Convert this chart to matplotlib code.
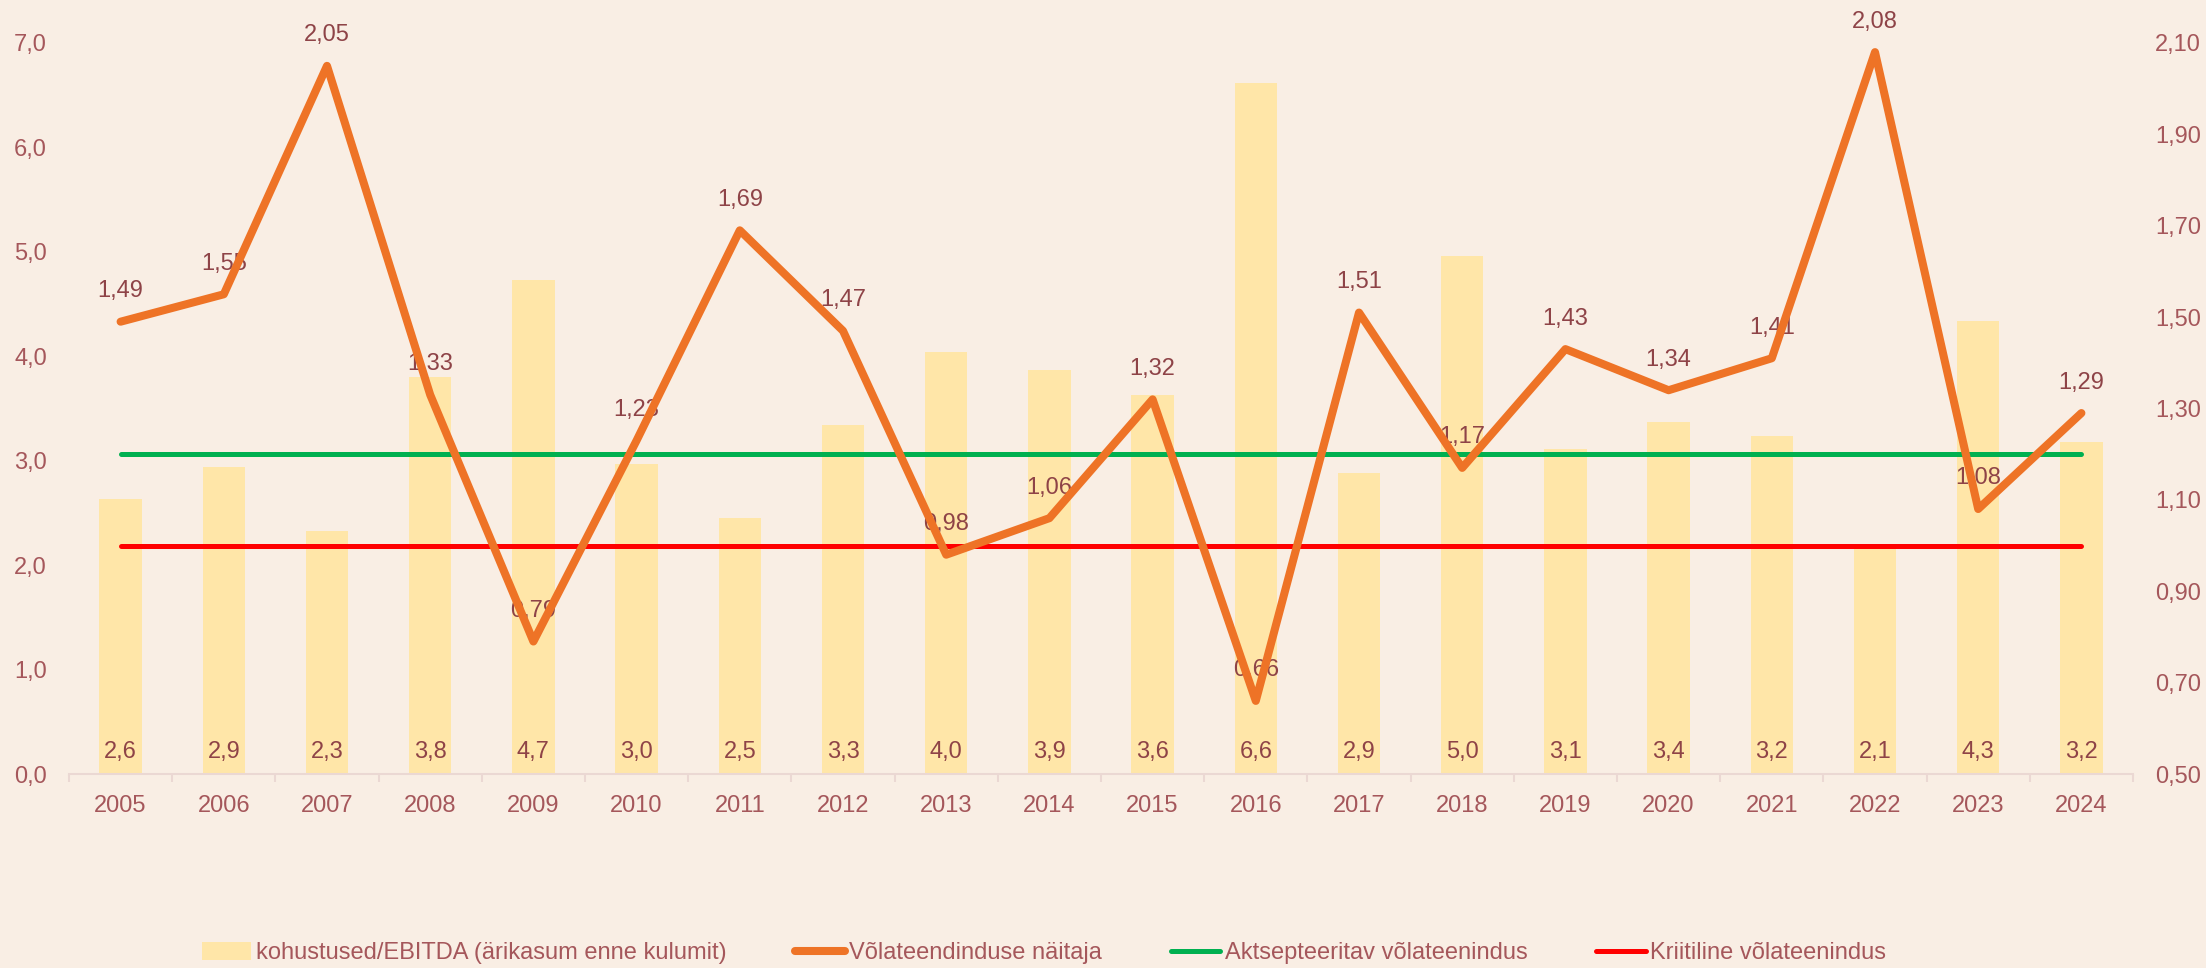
import matplotlib
matplotlib.use("Agg")
import matplotlib.pyplot as plt
from matplotlib.lines import Line2D
from matplotlib.patches import Patch
from matplotlib.ticker import FuncFormatter, FixedLocator
import numpy as np

plt.rcParams['font.family'] = ['Liberation Sans', 'DejaVu Sans']

years = ['2005', '2006', '2007', '2008', '2009', '2010', '2011', '2012', '2013', '2014',
         '2015', '2016', '2017', '2018', '2019', '2020', '2021', '2022', '2023', '2024']
debt_ebitda = [2.63, 2.94, 2.33, 3.80, 4.73, 2.97, 2.45, 3.34, 4.04, 3.87,
               3.63, 6.62, 2.88, 4.96, 3.11, 3.37, 3.24, 2.15, 4.34, 3.18]
debt_ebitda_labels = ['2,6', '2,9', '2,3', '3,8', '4,7', '3,0', '2,5', '3,3', '4,0', '3,9',
                      '3,6', '6,6', '2,9', '5,0', '3,1', '3,4', '3,2', '2,1', '4,3', '3,2']
debt_service = [1.49, 1.55, 2.05, 1.33, 0.79, 1.23, 1.69, 1.47, 0.98, 1.06,
                1.32, 0.66, 1.51, 1.17, 1.43, 1.34, 1.41, 2.08, 1.08, 1.29]
acceptable = [1.2] * len(years)
critical = [1.0] * len(years)

bg = '#F9EEE4'
tick_col = '#A5575B'
lab_col = '#8E4347'
axis_col = '#EBD8D3'

fig = plt.figure(figsize=(22.06, 9.68), dpi=100, facecolor=bg)
ax1 = fig.add_axes([69 / 2206, 1 - 774 / 968, (2133 - 69) / 2206, 731 / 968])
ax1.set_facecolor(bg)
x = np.arange(len(years))

ax1.bar(x, debt_ebitda, width=0.41, color='#FFE6A8', zorder=1)
for xi, lab in zip(x, debt_ebitda_labels):
    ax1.annotate(lab, xy=(xi, 0), xytext=(0, 16), textcoords='offset points',
                 ha='center', va='center', fontsize=17, color=lab_col, zorder=2)

ax1.set_xlim(-0.5, len(years) - 0.5)
ax1.set_ylim(0, 7)
ax1.set_yticks(np.arange(0, 7.01, 1))
ax1.yaxis.set_major_formatter(FuncFormatter(lambda v, p: f'{v:.1f}'.replace('.', ',')))
ax1.set_xticks(x)
ax1.set_xticklabels(years)
ax1.xaxis.set_minor_locator(FixedLocator(np.arange(-0.5, len(years), 1)))
ax1.tick_params(axis='x', which='major', length=0, pad=15, labelsize=17, labelcolor=tick_col)
ax1.tick_params(axis='x', which='minor', length=6, width=1.5, color=axis_col)
ax1.tick_params(axis='y', length=0, pad=16, labelsize=17, labelcolor=tick_col)
for s in ['top', 'right', 'left']:
    ax1.spines[s].set_visible(False)
ax1.spines['bottom'].set_color(axis_col)
ax1.spines['bottom'].set_linewidth(1.5)

ax2 = ax1.twinx()
ax2.set_ylim(0.5, 2.1)
ax2.set_yticks(np.arange(0.5, 2.11, 0.2))
ax2.yaxis.set_major_formatter(FuncFormatter(lambda v, p: f'{v:.2f}'.replace('.', ',')))
ax2.tick_params(axis='y', length=0, pad=16, labelsize=17, labelcolor=tick_col)
for s in ax2.spines.values():
    s.set_visible(False)

for xi, v in zip(x, debt_service):
    ax2.annotate(f'{v:.2f}'.replace('.', ','), xy=(xi, v), xytext=(0, 22),
                 textcoords='offset points', ha='center', va='center',
                 fontsize=17, color=lab_col, zorder=2, annotation_clip=False)
ax2.plot(x, acceptable, color='#00B050', lw=3.6, solid_capstyle='round', zorder=3)
ax2.plot(x, critical, color='#FF0000', lw=3.6, solid_capstyle='round', zorder=3)
ax2.plot(x, debt_service, color='#EE7326', lw=5.8, solid_capstyle='round',
         solid_joinstyle='round', zorder=4)

handles = [
    Patch(facecolor='#FFE6A8', edgecolor='none'),
    Line2D([], [], color='#EE7326', lw=5.8, solid_capstyle='round'),
    Line2D([], [], color='#00B050', lw=3.6, solid_capstyle='round'),
    Line2D([], [], color='#FF0000', lw=3.6, solid_capstyle='round'),
]
labels = ['kohustused/EBITDA (ärikasum enne kulumit)', 'Võlateendinduse näitaja',
          'Aktsepteeritav võlateenindus', 'Kriitiline võlateenindus']
leg = fig.legend(handles, labels, loc='center', bbox_to_anchor=(1044 / 2206, 1 - 953 / 968),
                 ncol=4, frameon=False, fontsize=17, handlelength=2.1, handleheight=0.8,
                 handletextpad=0.2, columnspacing=2.9, borderaxespad=0, borderpad=0)
for t in leg.get_texts():
    t.set_color(tick_col)

fig.savefig('out.png', dpi=100, facecolor=bg)
